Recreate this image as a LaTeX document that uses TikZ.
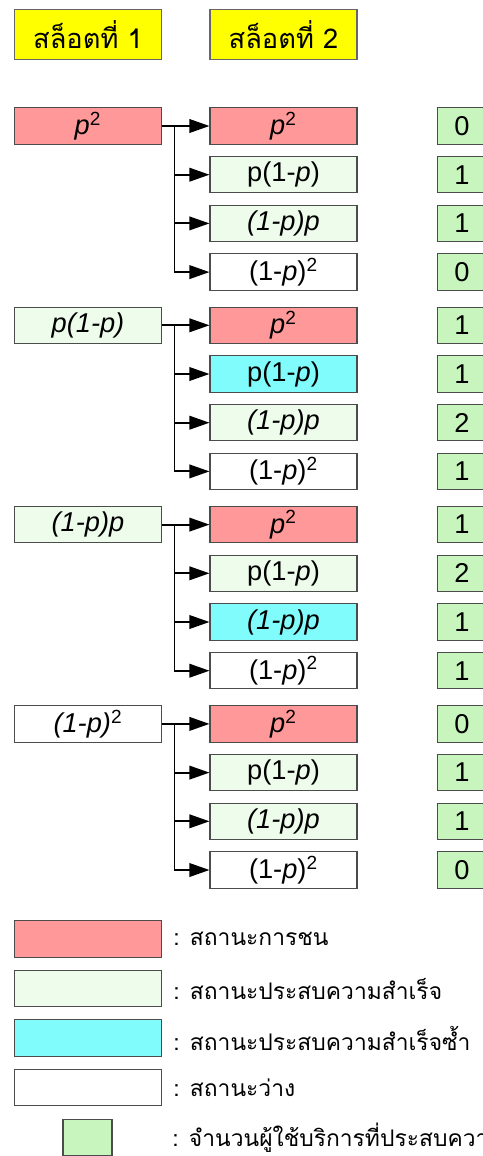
\documentclass[tikz,border=0pt]{standalone}
\usepackage{fontspec}
\setmainfont{Liberation Sans}
\newfontfamily\thaifont[Script=Thai]{Loma}
\usetikzlibrary{positioning,arrows.meta}

\definecolor{collide}{RGB}{255,153,153}
\definecolor{success}{RGB}{238,252,236}
\definecolor{again}{RGB}{128,252,252}
\definecolor{tally}{RGB}{200,244,190}
\definecolor{slot}{RGB}{255,255,0}

\newcommand{\ip}{\textit{p}}
% labels of the four second-slot outcomes
\newcommand{\outcome}[1]{\ifcase#1\or\ip\textsuperscript{2}\or p(1-\ip)\or\textit{(1-p)p}\or(1-\ip)\textsuperscript{2}\fi}

\tikzset{
  state/.style={draw=black!70, line width=0.6pt, minimum width=2.94cm,
    minimum height=0.73cm, inner sep=0pt, font=\fontsize{15.5}{18}\selectfont},
  state c/.style={state, fill=collide},
  state s/.style={state, fill=success},
  state r/.style={state, fill=again},
  state e/.style={state, fill=white},
  tally/.style={state, fill=tally, minimum width=0.98cm},
  title/.style={draw=black!60, line width=0.6pt, fill=slot, minimum width=2.94cm,
    minimum height=1cm, inner sep=0pt, font=\fontsize{15.5}{18}\thaifont},
  note/.style={inner sep=0pt, anchor=west, font=\fontsize{13}{16}\thaifont},
  link/.style={line width=1.1pt}
}

\begin{document}
\begin{tikzpicture}[x=0.02cm, y=-0.02cm, >={Triangle[length=0.4cm,width=0.27cm]}]
\useasboundingbox (0,0) rectangle (483,1156);

\node [title] (slot-1) at (88,34.5) {สล็อตที่ 1};
\node [title] (slot-2) at (283.5,34.5) {สล็อตที่ 2};

% first slot
\foreach \s/\l [count=\g] in {c/{\ip\textsuperscript{2}}, s/{\textit{p(1-p)}},
    s/{\textit{(1-p)p}}, e/{\textit{(1-p)}\textsuperscript{2}}} {
  \node [state \s] (first-\g) at (88,{126+199.3*(\g-1)}) {\l};
  \draw [link] (first-\g.east) -- ++(12.5,0) coordinate (fork-\g);
}

% second slot and the number of successful users
\foreach \g/\row in {1/{c/0,s/1,s/1,e/0}, 2/{c/1,r/1,s/2,e/1},
    3/{c/1,s/2,r/1,e/1}, 4/{c/0,s/1,s/1,e/0}}
  \foreach \s/\n [count=\r] in \row {
    \node [state \s] (second-\g-\r) at (283.5,{126+199.3*(\g-1)+48.7*(\r-1)}) {\outcome{\r}};
    \node [tally] (count-\g-\r) at (462,{126+199.3*(\g-1)+48.7*(\r-1)}) {\n};
    \draw [link,->] (fork-\g) |- (second-\g-\r);
  }

% legend
\foreach \s/\t [count=\i] in {c/สถานะการชน, s/สถานะประสบความสำเร็จ,
    r/สถานะประสบความสำเร็จซ้ำ, e/สถานะว่าง} {
  \node [state \s] (key-\i) at (88,{939+49.5*(\i-1)}) {};
  \node [note, right=0.22cm of key-\i] (key-text-\i) {: \t};
}
\node [tally] (key-5) at (87.5,1137.5) {};
\node [note] (key-text-5) at (172,1137.5) {: จำนวนผู้ใช้บริการที่ประสบความสำเร็จ};

\end{tikzpicture}
\end{document}
